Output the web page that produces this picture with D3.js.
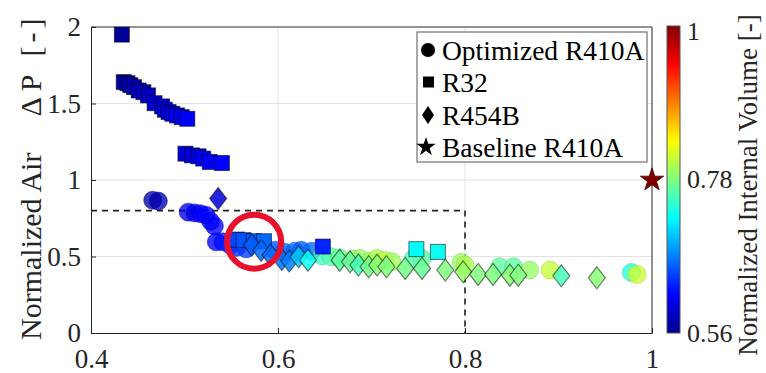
<!DOCTYPE html>
<html><head><meta charset="utf-8">
<script src="https://cdn.jsdelivr.net/npm/d3@7"></script>
<style>
body{margin:0;background:#fff;}
</style></head>
<body><svg id="c" width="766" height="373"></svg>
<script>
// ---- data ----
const xTicks = [0.4, 0.6, 0.8, 1];
const yTicks = [0, 0.5, 1, 1.5, 2];
const yTickLabels = ["0", "0.5", "1", "1.5", "2"];
const cbTicks = [0.56, 0.78, 1];
const legendLabels = ["Optimized R410A", "R32", "R454B", "Baseline R410A"];

// Optimized R410A (circles): x, y, normalized internal volume
const optX = [0.466,0.472,0.504,0.511,0.517,0.523,0.528,0.532,0.534,0.541,0.549,0.556,0.566,0.597,0.606,0.618,0.625,0.636,0.647,0.657,0.666,0.680,0.688,0.698,0.706,0.714,0.722,0.745,0.754,0.796,0.800,0.837,0.852,0.869,0.891,0.978,0.984];
const optY = [0.868,0.862,0.790,0.785,0.780,0.770,0.730,0.700,0.596,0.596,0.574,0.560,0.550,0.541,0.530,0.535,0.541,0.535,0.504,0.498,0.491,0.483,0.487,0.470,0.487,0.476,0.465,0.487,0.487,0.461,0.444,0.433,0.433,0.411,0.411,0.396,0.383];
const optV = [0.572,0.575,0.600,0.605,0.610,0.615,0.610,0.615,0.615,0.620,0.630,0.635,0.640,0.650,0.655,0.660,0.655,0.660,0.750,0.760,0.770,0.785,0.790,0.790,0.800,0.805,0.795,0.760,0.765,0.790,0.800,0.765,0.765,0.790,0.810,0.740,0.815];

// R32 (squares)
const r32X = [0.433,0.435,0.439,0.442,0.446,0.451,0.456,0.461,0.468,0.476,0.479,0.483,0.487,0.492,0.497,0.503,0.501,0.508,0.515,0.520,0.527,0.540,0.556,0.563,0.574,0.585,0.648,0.748,0.771];
const r32Y = [1.95,1.64,1.633,1.62,1.607,1.585,1.574,1.553,1.502,1.481,1.459,1.444,1.433,1.422,1.411,1.400,1.172,1.161,1.155,1.140,1.118,1.111,0.611,0.607,0.600,0.600,0.565,0.548,0.530];
const r32V = [0.565,0.570,0.572,0.575,0.577,0.580,0.583,0.585,0.590,0.595,0.597,0.600,0.602,0.605,0.608,0.612,0.595,0.600,0.603,0.607,0.610,0.615,0.645,0.650,0.655,0.660,0.630,0.725,0.730];

// R454B (diamonds)
const r454X = [0.536,0.572,0.582,0.592,0.604,0.612,0.622,0.632,0.666,0.677,0.686,0.697,0.706,0.716,0.736,0.754,0.779,0.798,0.814,0.830,0.848,0.857,0.903,0.941];
const r454Y = [0.879,0.575,0.540,0.510,0.480,0.470,0.498,0.476,0.476,0.465,0.444,0.433,0.444,0.433,0.422,0.422,0.411,0.400,0.383,0.383,0.378,0.378,0.374,0.361];
const r454V = [0.595,0.655,0.660,0.660,0.665,0.670,0.700,0.730,0.765,0.770,0.755,0.775,0.785,0.780,0.775,0.770,0.780,0.790,0.780,0.780,0.785,0.780,0.755,0.785];

// Baseline R410A (star)
const baseX = [1.0];
const baseY = [1.0];
const baseV = [1.0];

// ---- layout ----
const FONT = "'Liberation Serif', 'DejaVu Serif', 'Times New Roman', serif";
const svg = d3.select("#c");
const x = d3.scaleLinear().domain([0.4, 1]).range([91, 652]);
const y = d3.scaleLinear().domain([0, 2]).range([333, 27]);
const vMin = 0.56, vMax = 1;
const jetStops = [0, 0.125, 0.375, 0.625, 0.875, 1];
const jetCols = ["#00008f", "#0000ff", "#00ffff", "#ffff00", "#ff0000", "#800000"];
const color = d3.scaleLinear()
  .domain(jetStops.map(t => vMin + t * (vMax - vMin)))
  .range(jetCols).clamp(true);

// grid
const g = svg.append("g");
g.selectAll(".gx").data(xTicks.slice(1, -1)).join("line")
  .attr("x1", d => x(d)).attr("x2", d => x(d)).attr("y1", y(0)).attr("y2", y(2))
  .attr("stroke", "#e3e3e3").attr("stroke-width", 1);
g.selectAll(".gy").data(yTicks.slice(1, -1)).join("line")
  .attr("y1", d => y(d)).attr("y2", d => y(d)).attr("x1", x(0.4)).attr("x2", x(1))
  .attr("stroke", "#e3e3e3").attr("stroke-width", 1);

// axes
const xAxis = d3.axisBottom(x).tickValues(xTicks).tickSize(-5)
  .tickFormat(d => d === 1 ? "1" : d3.format(".1f")(d));
const gx = svg.append("g").attr("transform", `translate(0,${y(0)})`).call(xAxis);
const yAxis = d3.axisLeft(y).tickValues(yTicks).tickSize(-5).tickPadding(10)
  .tickFormat((d, i) => yTickLabels[i]);
const gy = svg.append("g").attr("transform", `translate(${x(0.4)},0)`).call(yAxis);
[gx, gy].forEach(a => {
  a.attr("font-family", null).attr("font-size", null);
  a.selectAll("text").style("font-family", FONT).style("font-size", "27px").style("fill", "#262626");
  a.select(".domain").attr("stroke", "#262626");
  a.selectAll(".tick line").attr("stroke", "#262626");
});
gx.selectAll("text").attr("y", 35).attr("dy", 0);
// top/right box
svg.append("line").attr("x1", x(0.4)).attr("x2", x(1)).attr("y1", y(2)).attr("y2", y(2)).attr("stroke", "#262626");
svg.append("line").attr("x1", x(1)).attr("x2", x(1)).attr("y1", y(0)).attr("y2", y(2)).attr("stroke", "#262626");

// dashed reference lines
svg.append("line").attr("x1", x(0.4)).attr("x2", x(0.8)).attr("y1", y(0.8)).attr("y2", y(0.8))
  .attr("stroke", "#222").attr("stroke-width", 1.6).attr("stroke-dasharray", "6,5");
svg.append("line").attr("x1", x(0.8)).attr("x2", x(0.8)).attr("y1", y(0.8)).attr("y2", y(0))
  .attr("stroke", "#222").attr("stroke-width", 1.6).attr("stroke-dasharray", "6,5");

function pts(X, Y, V) { return X.map((d, i) => ({ x: d, y: Y[i], v: V[i] })); }

// circles
svg.append("g").selectAll("circle").data(pts(optX, optY, optV)).join("circle")
  .attr("cx", d => x(d.x)).attr("cy", d => y(d.y)).attr("r", 9)
  .attr("fill", d => color(d.v)).attr("fill-opacity", 0.78)
  .attr("stroke", d => d3.color(color(d.v)).darker(0.6)).attr("stroke-opacity", 0.5).attr("stroke-width", 1);
// squares
svg.append("g").selectAll("rect").data(pts(r32X, r32Y, r32V)).join("rect")
  .attr("x", d => x(d.x) - 7.5).attr("y", d => y(d.y) - 7.5).attr("width", 15).attr("height", 15)
  .attr("fill", d => color(d.v)).attr("stroke", "#000").attr("stroke-opacity", 0.55).attr("stroke-width", 1);
// diamonds
const dia = "M0,-11L8.5,0L0,11L-8.5,0Z";
svg.append("g").selectAll("path").data(pts(r454X, r454Y, r454V)).join("path")
  .attr("transform", d => `translate(${x(d.x)},${y(d.y)})`).attr("d", dia)
  .attr("fill", d => color(d.v)).attr("fill-opacity", 0.85)
  .attr("stroke", "#000").attr("stroke-opacity", 0.5).attr("stroke-width", 1.2);
// star
svg.append("g").selectAll("path").data(pts(baseX, baseY, baseV)).join("path")
  .attr("transform", d => `translate(${x(d.x)},${y(d.y)})`)
  .attr("d", d3.symbol(d3.symbolStar, 170)())
  .attr("fill", d => color(d.v)).attr("stroke", "#400000").attr("stroke-width", 0.8);

// red annotation circle
svg.append("circle").attr("cx", x(0.5745)).attr("cy", y(0.597)).attr("r", 27)
  .attr("fill", "none").attr("stroke", "#e8102a").attr("stroke-width", 6);

// legend
const lg = svg.append("g");
lg.append("rect").attr("x", 417).attr("y", 32).attr("width", 230).attr("height", 130)
  .attr("fill", "#fff").attr("stroke", "#555").attr("stroke-width", 1);
const rowY = [50, 82, 115, 147];
legendLabels.forEach((t, i) => {
  lg.append("text").attr("x", 442).attr("y", rowY[i]).attr("dy", "0.36em")
    .style("font-family", FONT).style("font-size", "27.5px").style("fill", "#000").text(t);
});
lg.append("circle").attr("cx", 428).attr("cy", rowY[0]).attr("r", 7).attr("fill", "#000");
lg.append("rect").attr("x", 423).attr("y", rowY[1] - 5.5).attr("width", 11).attr("height", 11).attr("fill", "#000");
lg.append("path").attr("transform", `translate(428,${rowY[2]})`).attr("d", "M0,-9L6,0L0,9L-6,0Z").attr("fill", "#000");
lg.append("path").attr("transform", `translate(426,${rowY[3]})`).attr("d", d3.symbol(d3.symbolStar, 115)()).attr("fill", "#000");

// colorbar
const cb = d3.scaleLinear().domain([vMin, vMax]).range([333, 26]);
const defs = svg.append("defs");
const grad = defs.append("linearGradient").attr("id", "jet").attr("x1", 0).attr("y1", 1).attr("x2", 0).attr("y2", 0);
jetStops.forEach((t, i) => grad.append("stop").attr("offset", t).attr("stop-color", jetCols[i]));
svg.append("rect").attr("x", 667).attr("y", cb(vMax)).attr("width", 13).attr("height", cb(vMin) - cb(vMax))
  .attr("fill", "url(#jet)").attr("stroke", "#555").attr("stroke-width", 1);
const cbAxis = d3.axisRight(cb).tickValues(cbTicks).tickSize(0).tickPadding(7)
  .tickFormat(d => d === 1 ? "1" : d3.format(".2f")(d));
const gcb = svg.append("g").attr("transform", "translate(680,0)").call(cbAxis);
gcb.attr("font-family", null).attr("font-size", null);
gcb.select(".domain").remove();
gcb.selectAll("text").style("font-family", FONT).style("font-size", "26px").style("fill", "#262626");
gcb.selectAll(".tick").filter(d => d === 1).select("text").attr("dy", "0.5em");

// axis titles
svg.append("text").attr("transform", "translate(41,340) rotate(-90)")
  .attr("text-anchor", "start").style("font-family", FONT).style("font-size", "30px").style("fill", "#262626")
  .html('<tspan>Normalized Air</tspan><tspan dx="36" style="letter-spacing:6px">ΔP</tspan><tspan dx="12" style="letter-spacing:4px">[-]</tspan>');
svg.append("text").attr("transform", "translate(757,185) rotate(-90)")
  .attr("text-anchor", "middle").style("font-family", FONT).style("font-size", "27px").style("fill", "#262626")
  .text("Normalized Internal Volume [-]");
</script></body></html>
